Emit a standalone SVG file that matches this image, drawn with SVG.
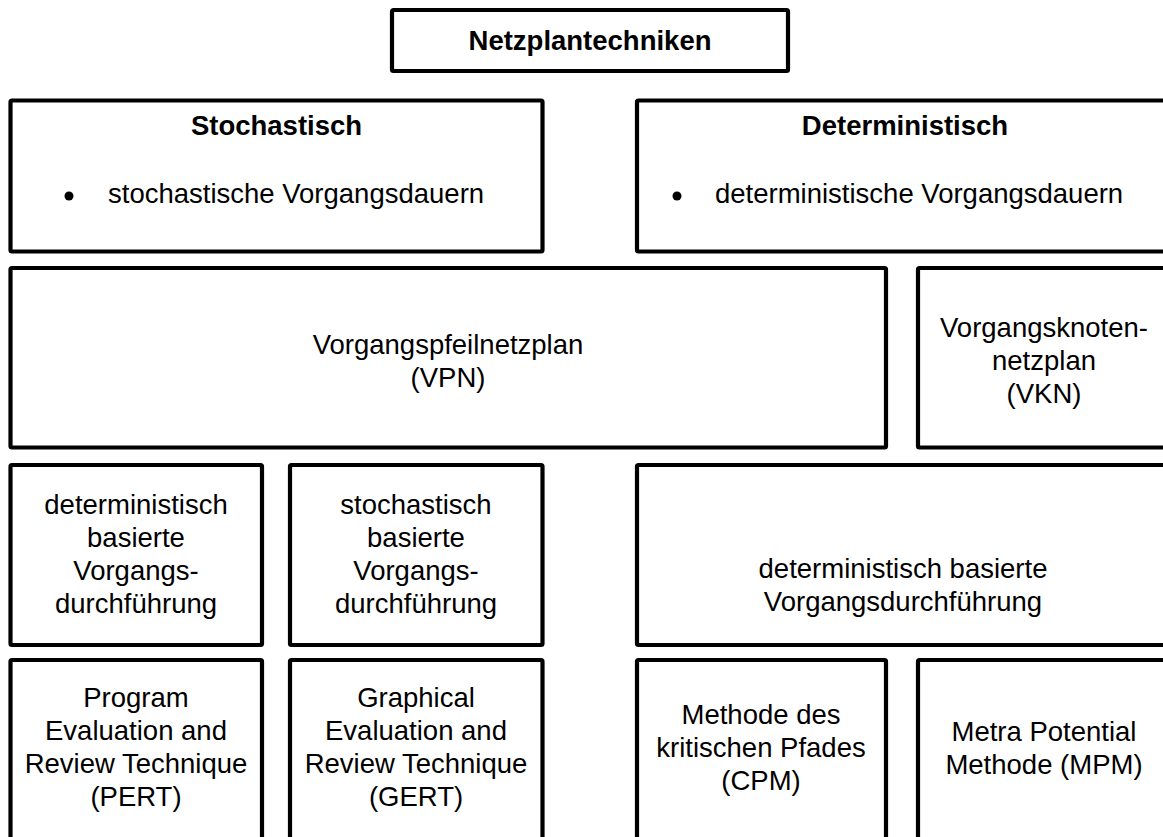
<svg xmlns="http://www.w3.org/2000/svg" width="1163" height="837" viewBox="0 0 1163 837">
  <style>
    .box { fill: #ffffff; stroke: #000000; stroke-width: 4.2; stroke-linejoin: round; }
    .t { font-family: "Liberation Sans", Arial, sans-serif; font-size: 27.5px; fill: #000000; text-anchor: middle; }
    .b { font-weight: bold; }
    .l { text-anchor: start; }
  </style>
  <rect width="1163" height="837" fill="#ffffff"/>

  <g id="netzplantechniken">
    <rect class="box" x="392" y="10" width="396" height="61" rx="1.5"/>
    <text class="t b" x="590" y="50">Netzplantechniken</text>
  </g>

  <g id="stochastisch">
    <rect class="box" x="10.5" y="100.5" width="532" height="151" rx="1.5"/>
    <text class="t b" x="276.5" y="135">Stochastisch</text>
    <circle cx="69" cy="196" r="4.5" fill="#000000"/>
    <text class="t l" x="108" y="203">stochastische Vorgangsdauern</text>
  </g>

  <g id="deterministisch">
    <rect class="box" x="637" y="100.5" width="540" height="151" rx="1.5"/>
    <text class="t b" x="905" y="135">Deterministisch</text>
    <circle cx="677" cy="196" r="4.5" fill="#000000"/>
    <text class="t l" x="715" y="203">deterministische Vorgangsdauern</text>
  </g>

  <g id="vpn">
    <rect class="box" x="10.5" y="268" width="875.5" height="179.5" rx="1.5"/>
    <text class="t" x="448" y="354">Vorgangspfeilnetzplan</text>
    <text class="t" x="448" y="387">(VPN)</text>
  </g>

  <g id="vkn">
    <rect class="box" x="918" y="268" width="260" height="179.5" rx="1.5"/>
    <text class="t" x="1044" y="337">Vorgangsknoten-</text>
    <text class="t" x="1044" y="370">netzplan</text>
    <text class="t" x="1044" y="403">(VKN)</text>
  </g>

  <g id="det-basiert-vpn">
    <rect class="box" x="10.5" y="465" width="251.5" height="180" rx="1.5"/>
    <text class="t" x="136" y="514">deterministisch</text>
    <text class="t" x="136" y="547">basierte</text>
    <text class="t" x="136" y="580">Vorgangs-</text>
    <text class="t" x="136" y="613">durchführung</text>
  </g>

  <g id="stoch-basiert-vpn">
    <rect class="box" x="290" y="465" width="252.5" height="180" rx="1.5"/>
    <text class="t" x="416" y="514">stochastisch</text>
    <text class="t" x="416" y="547">basierte</text>
    <text class="t" x="416" y="580">Vorgangs-</text>
    <text class="t" x="416" y="613">durchführung</text>
  </g>

  <g id="det-basiert">
    <rect class="box" x="637" y="465" width="540" height="180" rx="1.5"/>
    <text class="t" x="903" y="578">deterministisch basierte</text>
    <text class="t" x="903" y="611">Vorgangsdurchführung</text>
  </g>

  <g id="pert">
    <rect class="box" x="10.5" y="660" width="251.5" height="200" rx="1.5"/>
    <text class="t" x="136" y="707">Program</text>
    <text class="t" x="136" y="740">Evaluation and</text>
    <text class="t" x="136" y="773">Review Technique</text>
    <text class="t" x="136" y="806">(PERT)</text>
  </g>

  <g id="gert">
    <rect class="box" x="290" y="660" width="252.5" height="200" rx="1.5"/>
    <text class="t" x="416" y="707">Graphical</text>
    <text class="t" x="416" y="740">Evaluation and</text>
    <text class="t" x="416" y="773">Review Technique</text>
    <text class="t" x="416" y="806">(GERT)</text>
  </g>

  <g id="cpm">
    <rect class="box" x="637" y="660" width="249" height="200" rx="1.5"/>
    <text class="t" x="761" y="724">Methode des</text>
    <text class="t" x="761" y="757">kritischen Pfades</text>
    <text class="t" x="761" y="790">(CPM)</text>
  </g>

  <g id="mpm">
    <rect class="box" x="918" y="660" width="260" height="200" rx="1.5"/>
    <text class="t" x="1044" y="741">Metra Potential</text>
    <text class="t" x="1044" y="774">Methode (MPM)</text>
  </g>

  <g id="connectors"></g>
</svg>
